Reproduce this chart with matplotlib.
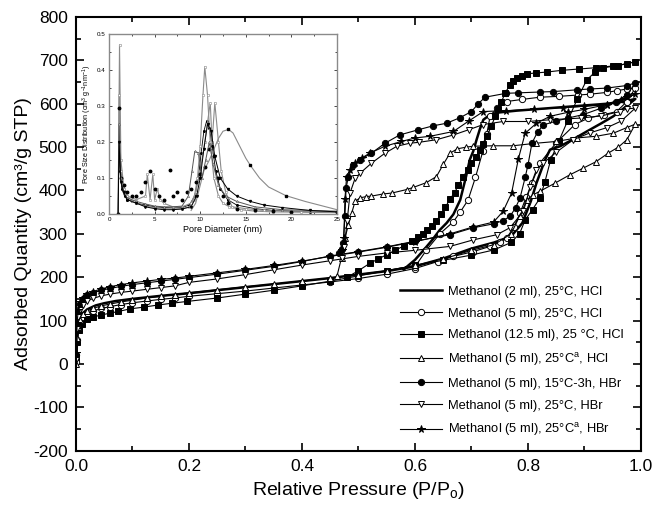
import matplotlib
matplotlib.use('Agg')
import matplotlib.pyplot as plt
from matplotlib.ticker import MultipleLocator

plt.rcParams['font.family'] = ['Liberation Sans', 'DejaVu Sans']
plt.rcParams['mathtext.fontset'] = 'custom'
plt.rcParams['mathtext.rm'] = 'Liberation Sans'
plt.rcParams['mathtext.it'] = 'Liberation Sans:italic'
plt.rcParams['axes.unicode_minus'] = False

# --- N2 isotherms: adsorption branch, then desorption branch (P/P0, cm3/g STP) ---
# Methanol (2 ml), 25 C, HCl
p_2ml_ads = [0.0005, 0.002, 0.004, 0.007, 0.012, 0.02, 0.035, 0.05, 0.07, 0.1, 0.15, 0.2, 0.25, 0.3, 0.35,
             0.4, 0.45, 0.5, 0.55, 0.6, 0.65, 0.7, 0.74, 0.77, 0.79, 0.805, 0.815, 0.83, 0.839, 0.857, 0.88,
             0.904, 0.93, 0.951, 0.97, 0.99]
v_2ml_ads = [10, 60, 88, 105, 117, 126, 135, 140, 145, 150, 157, 163, 170, 177, 184,
             191, 198, 206, 214, 225, 243, 266, 280, 294, 325, 375, 417, 470, 494, 502, 518,
             536, 555, 571, 590, 611]
p_2ml_des = [0.97, 0.94, 0.9, 0.86, 0.82, 0.78, 0.75, 0.738, 0.73, 0.721, 0.715, 0.709, 0.703, 0.697, 0.69,
             0.68, 0.668, 0.656, 0.644, 0.63, 0.615, 0.6, 0.58]
v_2ml_des = [605, 600, 596, 592, 588, 584, 580, 577, 572, 563, 542, 517, 490, 471, 430,
             378, 345, 325, 309, 285, 262, 240, 218]

# Methanol (5 ml), 25 C, HCl
p_5ml_ads = [0.0005, 0.002, 0.004, 0.007, 0.012, 0.02, 0.03, 0.045, 0.06, 0.08, 0.1, 0.125, 0.15, 0.175, 0.2,
             0.25, 0.3, 0.35, 0.4, 0.45, 0.5, 0.55, 0.6, 0.64, 0.668, 0.703, 0.733, 0.75, 0.762, 0.775, 0.786,
             0.797, 0.807, 0.821, 0.85, 0.883, 0.907, 0.935, 0.957, 0.975, 0.99]
v_5ml_ads = [5, 55, 80, 97, 108, 116, 122, 128, 132, 137, 141, 145, 149, 152, 156,
             162, 168, 175, 182, 189, 197, 207, 220, 236, 248, 259, 271, 280, 290, 315, 348,
             385, 417, 463, 510, 552, 567, 575, 582, 605, 636]
p_5ml_des = [0.975, 0.957, 0.939, 0.91, 0.888, 0.855, 0.821, 0.79, 0.762, 0.745, 0.733, 0.727, 0.72, 0.707,
             0.694, 0.68, 0.668, 0.644, 0.62, 0.6]
v_5ml_des = [634, 630, 626, 622, 620, 617, 615, 610, 605, 590, 571, 530, 490, 430,
             378, 350, 328, 300, 262, 224]

# Methanol (12.5 ml), 25 C, HCl
p_12ml_ads = [0.0005, 0.002, 0.005, 0.01, 0.02, 0.03, 0.045, 0.06, 0.075, 0.096, 0.12, 0.146, 0.17, 0.196,
              0.25, 0.3, 0.35, 0.4, 0.45, 0.5, 0.55, 0.6, 0.65, 0.7, 0.74, 0.77, 0.785, 0.795, 0.808, 0.821,
              0.83, 0.84, 0.855, 0.87, 0.887, 0.904, 0.918, 0.933, 0.96, 0.99]
v_12ml_ads = [15, 50, 78, 92, 103, 108, 113, 117, 121, 127, 131, 136, 140, 144,
              152, 161, 170, 180, 191, 203, 215, 227, 239, 251, 263, 280, 300, 332, 356, 382,
              420, 470, 515, 560, 610, 655, 672, 683, 688, 697]
p_12ml_des = [0.975, 0.95, 0.92, 0.89, 0.86, 0.833, 0.815, 0.798, 0.789, 0.78, 0.774, 0.768, 0.76, 0.753,
              0.747, 0.742, 0.735, 0.727, 0.72, 0.715, 0.708, 0.70, 0.693, 0.685, 0.677, 0.67, 0.662, 0.654,
              0.646, 0.638, 0.63, 0.622, 0.614, 0.606, 0.595, 0.58, 0.565, 0.55, 0.535, 0.52, 0.5, 0.48]
v_12ml_des = [692, 687, 683, 680, 677, 673, 671, 669, 665, 659, 652, 644, 625, 605,
              588, 571, 548, 525, 508, 494, 478, 464, 448, 430, 412, 395, 380, 362,
              345, 330, 318, 308, 300, 292, 283, 272, 262, 252, 242, 232, 215, 200]

# Methanol (5 ml), 25 C (a), HCl
p_5a_ads = [0.0005, 0.002, 0.004, 0.007, 0.012, 0.02, 0.03, 0.045, 0.06, 0.08, 0.1, 0.125, 0.15, 0.175, 0.2,
            0.25, 0.3, 0.35, 0.4, 0.45, 0.5, 0.55, 0.6, 0.65, 0.7, 0.74, 0.77, 0.785, 0.798, 0.809, 0.821,
            0.848, 0.874, 0.897, 0.92, 0.942, 0.96, 0.975, 0.99]
v_5a_ads = [0, 60, 86, 102, 114, 122, 128, 134, 138, 143, 147, 152, 156, 160, 164,
            171, 178, 184, 191, 198, 206, 215, 227, 242, 262, 275, 300, 340, 378, 390, 398,
            417, 436, 451, 466, 486, 500, 517, 553]
p_5a_des = [0.975, 0.951, 0.921, 0.886, 0.85, 0.815, 0.773, 0.738, 0.703, 0.691, 0.675, 0.662, 0.65, 0.638,
            0.62, 0.597, 0.585, 0.559, 0.544, 0.523, 0.514, 0.503, 0.494, 0.488, 0.482, 0.476, 0.47, 0.462]
v_5a_des = [545, 532, 525, 521, 513, 509, 503, 503, 502, 500, 496, 486, 460, 432,
            418, 407, 402, 394, 392, 387, 386, 383, 375, 348, 320, 290, 245, 203]

# Methanol (5 ml), 15 C-3h, HBr
p_15_ads = [0.0005, 0.002, 0.004, 0.007, 0.012, 0.02, 0.03, 0.045, 0.06, 0.08, 0.1, 0.125, 0.15, 0.175, 0.2,
            0.25, 0.3, 0.35, 0.4, 0.45, 0.5, 0.55, 0.6, 0.662, 0.703, 0.739, 0.755, 0.768, 0.778, 0.786,
            0.795, 0.8, 0.807, 0.817, 0.827, 0.85, 0.871, 0.898, 0.93, 0.955, 0.975, 0.99]
v_15_ads = [20, 90, 120, 138, 150, 158, 164, 170, 174, 179, 183, 187, 191, 195, 199,
            207, 216, 225, 236, 249, 259, 270, 283, 298, 314, 323, 330, 340, 360, 383,
            430, 459, 509, 535, 551, 560, 567, 575, 590, 605, 620, 648]
p_15_des = [0.975, 0.939, 0.91, 0.886, 0.845, 0.821, 0.782, 0.761, 0.724, 0.712, 0.70, 0.68, 0.656, 0.632,
            0.606, 0.573, 0.547, 0.523, 0.503, 0.491, 0.482, 0.478, 0.476, 0.473, 0.47, 0.466]
v_15_des = [642, 636, 634, 632, 628, 627, 625, 624, 615, 600, 582, 568, 555, 549,
            540, 528, 509, 486, 471, 459, 432, 405, 340, 278, 264, 255]

# Methanol (5 ml), 25 C, HBr
p_hbr_ads = [0.0005, 0.002, 0.004, 0.007, 0.012, 0.02, 0.03, 0.045, 0.06, 0.08, 0.1, 0.125, 0.15, 0.175, 0.2,
             0.25, 0.3, 0.35, 0.4, 0.45, 0.5, 0.55, 0.6, 0.662, 0.703, 0.745, 0.768, 0.792, 0.804, 0.815,
             0.827, 0.85, 0.88, 0.91, 0.94, 0.965, 0.99]
v_hbr_ads = [10, 80, 108, 125, 137, 145, 151, 157, 161, 165, 168, 172, 176, 180, 188,
             196, 206, 217, 228, 238, 248, 256, 262, 271, 286, 298, 314, 352, 409, 448,
             463, 488, 517, 533, 545, 560, 590]
p_hbr_des = [0.975, 0.963, 0.93, 0.894, 0.839, 0.8, 0.756, 0.721, 0.695, 0.668, 0.638, 0.607, 0.591, 0.568,
             0.547, 0.523, 0.503, 0.494, 0.485, 0.48, 0.475, 0.47]
v_hbr_des = [588, 582, 572, 567, 563, 559, 559, 552, 540, 528, 517, 511, 509, 502,
             486, 463, 440, 428, 394, 330, 270, 245]

# Methanol (5 ml), 25 C (a), HBr
p_hbra_ads = [0.0005, 0.002, 0.004, 0.007, 0.012, 0.02, 0.03, 0.045, 0.06, 0.08, 0.1, 0.125, 0.15, 0.175, 0.2,
              0.25, 0.3, 0.35, 0.4, 0.45, 0.5, 0.55, 0.6, 0.662, 0.703, 0.739, 0.756, 0.771, 0.783, 0.795,
              0.815, 0.839, 0.87, 0.9, 0.939, 0.965, 0.99]
v_hbra_ads = [25, 95, 125, 142, 153, 161, 167, 173, 178, 183, 187, 191, 195, 198, 202,
              210, 218, 227, 237, 248, 258, 269, 282, 300, 316, 327, 352, 394, 473, 532,
              555, 571, 580, 587, 598, 608, 622]
p_hbra_des = [0.975, 0.939, 0.9, 0.862, 0.81, 0.761, 0.721, 0.695, 0.668, 0.627, 0.6, 0.576, 0.547, 0.52,
              0.506, 0.494, 0.485, 0.479, 0.476, 0.474, 0.47]
v_hbra_des = [616, 598, 594, 591, 587, 584, 582, 560, 536, 525, 521, 513, 502, 486,
              475, 463, 448, 432, 380, 290, 262]

labels = ['Methanol (2 ml), 25°C, HCl',
          'Methanol (5 ml), 25°C, HCl',
          'Methanol (12.5 ml), 25 °C, HCl',
          'Methanol (5 ml), 25°C$^{\\mathrm{a}}$, HCl',
          'Methanol (5 ml), 15°C-3h, HBr',
          'Methanol (5 ml), 25°C, HBr',
          'Methanol (5 ml), 25°C$^{\\mathrm{a}}$, HBr']

# --- inset: pore size distribution (nm, cm3 g-1 nm-1) ---
d_a = [1.0, 1.1, 1.2, 1.4, 1.7, 2.0, 2.5, 3, 4, 5, 6, 7, 8, 8.8, 9.4, 9.8, 10.1, 10.4, 10.7, 11.0, 11.3,
       11.7, 12.2, 13, 14, 16, 18, 20, 22, 25]
psd_a = [0.0, 0.2, 0.12, 0.07, 0.05, 0.04, 0.035, 0.03, 0.025, 0.02, 0.018, 0.017, 0.018, 0.025, 0.05, 0.1,
         0.17, 0.23, 0.258, 0.24, 0.19, 0.12, 0.07, 0.04, 0.025, 0.015, 0.01, 0.008, 0.006, 0.005]
d_b = [1.0, 1.15, 1.3, 1.6, 2.0, 2.5, 3, 4, 5, 6, 7, 8, 8.8, 9.3, 9.7, 10.0, 10.3, 10.5, 10.8, 11.1, 11.5,
       12.0, 12.5, 13.2, 14.5, 16, 18, 21, 25]
psd_b = [0.0, 0.47, 0.15, 0.08, 0.05, 0.035, 0.03, 0.022, 0.018, 0.015, 0.014, 0.015, 0.02, 0.04, 0.1, 0.19,
         0.33, 0.409, 0.33, 0.2, 0.1, 0.05, 0.03, 0.02, 0.012, 0.008, 0.006, 0.005, 0.004]
d_c = [1.0, 1.1, 1.3, 1.6, 2, 3, 4, 4.2, 4.5, 4.8, 5.0, 5.3, 5.6, 6, 7, 8, 9, 9.5, 10.0, 10.5, 11.1, 11.3,
       11.6, 12.0, 12.3, 12.8, 13.5, 15, 17, 20, 25]
psd_c = [0.0, 0.33, 0.12, 0.07, 0.05, 0.04, 0.05, 0.11, 0.04, 0.11, 0.04, 0.07, 0.04, 0.03, 0.02, 0.02, 0.03,
         0.06, 0.12, 0.2, 0.309, 0.2, 0.309, 0.2, 0.12, 0.06, 0.02, 0.015, 0.01, 0.008, 0.006]
d_d = [9.0, 9.5, 10.0, 10.4, 11.0, 11.5, 12.0, 12.5, 13.1, 13.6, 14.2, 15.0, 15.5, 16.5, 17.5, 19.4, 21.5, 25]
psd_d = [0.01, 0.03, 0.08, 0.12, 0.15, 0.18, 0.21, 0.23, 0.235, 0.225, 0.195, 0.155, 0.135, 0.1, 0.075, 0.051,
         0.035, 0.012]
d_e = [1.0, 1.1, 1.3, 1.6, 2.0, 2.5, 3.0, 3.5, 4.0, 4.5, 5.0, 5.5, 6.0, 6.7, 7.0, 7.5, 8.0, 8.5, 9.0, 9.5,
       10.0, 10.5, 11.0, 11.5, 12.0, 12.5, 13.0, 14, 16, 18, 20, 25]
psd_e = [0.0, 0.295, 0.1, 0.08, 0.06, 0.05, 0.05, 0.06, 0.09, 0.12, 0.07, 0.05, 0.04, 0.121, 0.05, 0.06, 0.04,
         0.06, 0.07, 0.09, 0.11, 0.13, 0.18, 0.16, 0.1, 0.05, 0.03, 0.015, 0.01, 0.008, 0.006, 0.005]
d_f = [1.0, 1.1, 1.3, 1.6, 2, 3, 4, 5, 6, 7, 8, 8.7, 9.1, 9.4, 9.8, 10.2, 10.6, 11.0, 11.4, 12.0, 12.8, 14,
       16, 19, 25]
psd_f = [0, 0.25, 0.1, 0.06, 0.045, 0.035, 0.028, 0.022, 0.02, 0.02, 0.022, 0.05, 0.12, 0.174, 0.17, 0.1,
         0.15, 0.2, 0.14, 0.08, 0.05, 0.035, 0.02, 0.012, 0.008]
d_g = [1.0, 1.1, 1.3, 1.6, 2, 3, 4, 5, 6, 7, 8, 9, 9.6, 10.0, 10.4, 10.8, 11.2, 11.6, 12.2, 13, 14, 15.5,
       17, 19, 22, 25]
psd_g = [0, 0.2, 0.09, 0.06, 0.04, 0.03, 0.02, 0.015, 0.012, 0.012, 0.014, 0.02, 0.05, 0.1, 0.18, 0.25, 0.23,
         0.16, 0.1, 0.07, 0.05, 0.035, 0.025, 0.018, 0.01, 0.006]

fig = plt.figure(figsize=(6.54, 5.13), dpi=100)
ax = fig.add_axes([0.1162, 0.1215, 0.8639, 0.8454])

series = [
    (p_2ml_ads + p_2ml_des, v_2ml_ads + v_2ml_des, dict(marker='None', lw=1.8)),
    (p_5ml_ads + p_5ml_des, v_5ml_ads + v_5ml_des, dict(marker='o', mfc='white', ms=4.5)),
    (p_12ml_ads + p_12ml_des, v_12ml_ads + v_12ml_des, dict(marker='s', mfc='black', ms=4)),
    (p_5a_ads + p_5a_des, v_5a_ads + v_5a_des, dict(marker='^', mfc='white', ms=5)),
    (p_15_ads + p_15_des, v_15_ads + v_15_des, dict(marker='o', mfc='black', ms=4.5)),
    (p_hbr_ads + p_hbr_des, v_hbr_ads + v_hbr_des, dict(marker='v', mfc='white', ms=5)),
    (p_hbra_ads + p_hbra_des, v_hbra_ads + v_hbra_des, dict(marker='*', mfc='black', ms=5.5)),
]
for (px, vy, st), lab in zip(series, labels):
    kw = dict(color='black', lw=0.8, mec='black', mew=0.7)
    kw.update(st)
    ax.plot(px, vy, label=lab, **kw)

ax.set_xlim(0, 1.0)
ax.set_ylim(-200, 800)
ax.xaxis.set_major_locator(MultipleLocator(0.2))
ax.xaxis.set_minor_locator(MultipleLocator(0.1))
ax.yaxis.set_major_locator(MultipleLocator(100))
ax.yaxis.set_minor_locator(MultipleLocator(50))
ax.tick_params(which='both', direction='in', top=True, right=True, width=1.2)
ax.tick_params(which='major', length=6, labelsize=12.5, pad=6)
ax.tick_params(which='minor', length=3.5)
for s in ax.spines.values():
    s.set_linewidth(1.5)
ax.set_xlabel('Relative Pressure (P/P$_\\mathrm{o}$)', fontsize=14, labelpad=4)
ax.set_ylabel('Adsorbed Quantity (cm³/g STP)', fontsize=14)
ax.yaxis.set_label_coords(-0.078, 0.5)

ax.legend(loc='upper left', bbox_to_anchor=(0.5735, 0.38), frameon=False, fontsize=9.3,
          handlelength=3.25, handletextpad=0.45, labelspacing=0.75, borderpad=0, borderaxespad=0)

# inset
axi = fig.add_axes([0.1667, 0.5828, 0.3486, 0.3509])
axi.set_zorder(5)
axi.set_facecolor('white')
grey = '#8a8a8a'
axi.plot(d_a, psd_a, color='black', lw=0.6, marker='o', ms=1.2)
axi.plot(d_b, psd_b, color=grey, lw=0.8, marker='o', ms=1.8, mfc='white', mew=0.4)
axi.plot(d_c, psd_c, color=grey, lw=0.8, marker='s', ms=1.6, mfc='white', mew=0.4)
axi.plot(d_d, psd_d, color=grey, lw=0.8, marker='s', ms=2, mfc='black', mec='black', markevery=[8, 12, 15])
axi.plot(d_e, psd_e, color='black', lw=0, marker='o', ms=1.8)
axi.plot(d_f, psd_f, color='#555555', lw=0.7, marker='^', ms=1.6, mfc='white', mew=0.4)
axi.plot(d_g, psd_g, color='black', lw=0.7, marker='v', ms=1.4)
axi.set_xlim(0, 25)
axi.set_ylim(0, 0.5)
axi.xaxis.set_major_locator(MultipleLocator(5))
axi.xaxis.set_minor_locator(MultipleLocator(2.5))
axi.yaxis.set_major_locator(MultipleLocator(0.1))
axi.yaxis.set_minor_locator(MultipleLocator(0.05))
axi.tick_params(which='both', direction='in', top=True, right=True, width=0.5, colors='black')
axi.tick_params(which='major', length=2.5, labelsize=4.5, pad=2.5)
axi.tick_params(which='minor', length=1.5)
for s in axi.spines.values():
    s.set_color(grey)
    s.set_linewidth(1.0)
axi.set_xlabel('Pore Diameter (nm)', fontsize=6.5, labelpad=2)
axi.set_ylabel('Pore Size Distribution (cm$^3$ g$^{-1}$nm$^{-1}$)', fontsize=5.2, labelpad=2)

fig.savefig('out.png', dpi=100)
